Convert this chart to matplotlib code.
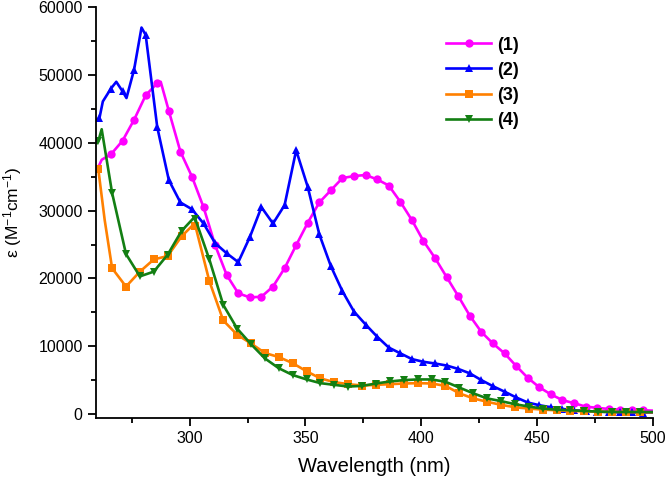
import numpy as np
import matplotlib
matplotlib.use("Agg")
import matplotlib.pyplot as plt
from matplotlib.ticker import MultipleLocator

plt.rcParams['font.family'] = ['Liberation Sans', 'DejaVu Sans']
plt.rcParams['mathtext.fontset'] = 'custom'
plt.rcParams['mathtext.rm'] = 'Liberation Sans'
plt.rcParams['mathtext.it'] = 'Liberation Sans:italic'
plt.rcParams['mathtext.bf'] = 'Liberation Sans:bold'

# ---- data -------------------------------------------------------------
labels = ['(1)', '(2)', '(3)', '(4)']
colors = ['#FF00FF', '#0000FF', '#FF8000', '#137F13']
markers = ['o', '^', 's', 'v']

wl1 = [260, 262, 266, 271, 276, 281, 286, 287.5, 291, 296, 301, 306, 311, 316, 321,
       326, 331, 336, 341, 346, 351, 356, 361, 366, 371, 376, 381, 386, 391, 396,
       401, 406, 411, 416, 421, 426, 431, 436, 441, 446, 451, 456, 461, 466, 471,
       476, 481, 486, 491, 496, 500]
eps1 = [36000, 37500, 38300, 40300, 43400, 47000, 48800, 49000, 44700, 38700, 35000,
        30500, 24900, 20500, 17800, 17200, 17300, 18800, 21500, 24900, 28200, 31200,
        33000, 34800, 35100, 35250, 34600, 33700, 31300, 28600, 25500, 23000, 20200,
        17400, 14500, 12100, 10400, 8950, 7100, 5350, 3950, 2900, 2050, 1600, 1100,
        900, 750, 650, 600, 550, 500]
mk1 = [266, 271, 276, 281, 286, 291, 296, 301, 306, 311, 316, 321, 326, 331, 336,
       341, 346, 351, 356, 361, 366, 371, 376, 381, 386, 391, 396, 401, 406, 411,
       416, 421, 426, 431, 436, 441, 446, 451, 456, 461, 466, 471, 476, 481, 486,
       491, 496]

wl2 = [260, 261, 262.5, 266, 268.3, 271, 272.7, 276, 279.2, 281, 286, 291, 296, 301,
       306, 311, 316, 321, 326, 331, 336, 341, 346, 351, 356, 361, 366, 371, 376,
       381, 386, 391, 396, 401, 406, 411, 416, 421, 426, 431, 436, 441, 446, 451,
       456, 461, 466, 471, 476, 481, 486, 491, 496, 500]
eps2 = [43400, 43600, 46100, 48000, 49000, 47600, 46600, 50800, 57000, 55900, 42300,
        34500, 31200, 30200, 28100, 25200, 23700, 22400, 26100, 30500, 28100, 30800,
        38900, 33500, 26500, 21800, 18100, 15100, 13200, 11400, 9800, 8950, 8100,
        7700, 7450, 7150, 6650, 6000, 5000, 4100, 3300, 2450, 1700, 1300, 1000, 750,
        550, 450, 350, 300, 250, 250, 200, 200]
mk2 = [261, 266, 271, 276, 281, 286, 291, 296, 301, 306, 311, 316, 321, 326, 331,
       336, 341, 346, 351, 356, 361, 366, 371, 376, 381, 386, 391, 396, 401, 406,
       411, 416, 421, 426, 431, 436, 441, 446, 451, 456, 461, 466, 471, 476, 481,
       486, 491, 496]

wl3 = [260, 260.5, 263.3, 266.5, 272.5, 278.5, 284.5, 290.5, 296.5, 301.5, 302.5,
       308.5, 314.5, 320.5, 326.5, 332.5, 338.5, 344.5, 350.5, 356.5, 362.5, 368.5,
       374.5, 380.5, 386.5, 392.5, 398.5, 404.5, 410.5, 416.5, 422.5, 428.5, 434.5,
       440.5, 446.5, 452.5, 458.5, 464.5, 470.5, 476.5, 482.5, 488.5, 494.5, 500]
eps3 = [36500, 36200, 28600, 21500, 18800, 21000, 22800, 23300, 26200, 27900, 27700,
        19600, 13800, 11700, 10400, 9000, 8400, 7500, 6300, 5250, 4700, 4400, 4200,
        4300, 4400, 4500, 4550, 4500, 4150, 3050, 2300, 1800, 1350, 1000, 800, 650,
        550, 450, 400, 350, 300, 300, 250, 250]

wl4 = [260, 260.5, 262, 266.5, 272.5, 278.5, 284.5, 290.5, 296.5, 301.7, 302.5,
       308.5, 314.5, 320.5, 326.5, 332.5, 338.5, 344.5, 350.5, 356.5, 362.5, 368.5,
       374.5, 380.5, 386.5, 392.5, 398.5, 404.5, 410.5, 416.5, 422.5, 428.5, 434.5,
       440.5, 446.5, 452.5, 458.5, 464.5, 470.5, 476.5, 482.5, 488.5, 494.5, 500]
eps4 = [40000, 40200, 42000, 32600, 23600, 20300, 21000, 23500, 27000, 28900, 28700,
        22800, 16100, 12600, 10300, 8200, 6750, 5750, 5100, 4550, 4300, 4050, 4150,
        4500, 4800, 5000, 5100, 5100, 4750, 3900, 3050, 2300, 1900, 1450, 1100, 800,
        650, 550, 450, 350, 300, 300, 300, 300]

mk34 = [260.5, 266.5, 272.5, 278.5, 284.5, 290.5, 296.5, 302.5, 308.5, 314.5, 320.5,
        326.5, 332.5, 338.5, 344.5, 350.5, 356.5, 362.5, 368.5, 374.5, 380.5, 386.5,
        392.5, 398.5, 404.5, 410.5, 416.5, 422.5, 428.5, 434.5, 440.5, 446.5, 452.5,
        458.5, 464.5, 470.5, 476.5, 482.5, 488.5, 494.5]

series = [(wl1, eps1, mk1), (wl2, eps2, mk2), (wl3, eps3, mk34), (wl4, eps4, mk34)]

# ---- figure -----------------------------------------------------------
fig = plt.figure(figsize=(6.66, 4.8), dpi=100)
ax = fig.add_axes([0.144, 0.129, 0.836, 0.856])

for (wl, ep, mk), lab, col, m in zip(series, labels, colors, markers):
    wl = np.asarray(wl, float)
    mask = np.isin(wl, np.asarray(mk, float))
    ax.plot(wl, ep, color=col, lw=1.9, marker=m, markersize=6,
            markevery=list(mask), label=lab, markeredgewidth=0,
            solid_joinstyle='round')

ax.set_xlim(259.5, 500)
ax.set_ylim(-600, 60000)
ax.xaxis.set_major_locator(MultipleLocator(50))
ax.xaxis.set_minor_locator(MultipleLocator(25))
ax.yaxis.set_major_locator(MultipleLocator(10000))
ax.yaxis.set_minor_locator(MultipleLocator(5000))
ax.spines['top'].set_visible(False)
ax.spines['right'].set_visible(False)
for s in ('left', 'bottom'):
    ax.spines[s].set_linewidth(1.3)
ax.tick_params(which='major', direction='out', length=6, width=1.3, labelsize=11.5)
ax.tick_params(which='minor', direction='out', length=3.5, width=1.3)

ax.set_xlabel('Wavelength (nm)', fontsize=14.5, labelpad=8)
ax.set_ylabel('ε (M$^{-1}$cm$^{-1}$)', fontsize=12.5, labelpad=10)

leg = ax.legend(loc='upper left', bbox_to_anchor=(0.60, 0.968), frameon=False,
                prop={'size': 13, 'weight': 'bold'}, handlelength=2.5,
                handletextpad=0.3, labelspacing=0.45)

fig.savefig('out.png', dpi=100)
